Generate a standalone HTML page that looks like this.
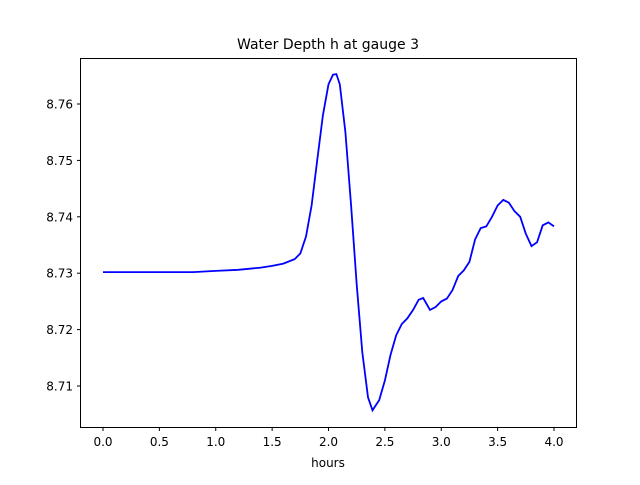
<!DOCTYPE html>
<html><head><meta charset="utf-8"><style>
body{margin:0;background:#fff;}
svg text{font-family:"DejaVu Sans","Liberation Sans",sans-serif;fill:#000;}
</style></head><body>
<svg id="chart" width="640" height="480" xmlns="http://www.w3.org/2000/svg">
<rect width="640" height="480" fill="#fff"/>
<text x="328" y="49" font-size="14" text-anchor="middle">Water Depth h at gauge 3</text>
<text x="328" y="467" font-size="12" text-anchor="middle">hours</text>
<g id="xt"></g>
<g id="yt"></g>
<polyline id="line" fill="none" stroke="#0000ff" stroke-width="1.8"/>
<rect x="80.5" y="58.5" width="496" height="369" fill="none" stroke="#000" stroke-width="1"/>
</svg>
<script>
const hours=[0,0.5,0.8,1.0,1.2,1.4,1.5,1.6,1.7,1.75,1.8,1.85,1.9,1.95,2.0,2.04,2.07,2.1,2.15,2.2,2.25,2.3,2.35,2.39,2.45,2.5,2.55,2.6,2.65,2.7,2.75,2.8,2.84,2.9,2.95,3.0,3.05,3.1,3.15,3.2,3.25,3.3,3.35,3.4,3.45,3.5,3.55,3.6,3.65,3.7,3.75,3.8,3.85,3.9,3.95,4.0];
const depth=[8.7302,8.7302,8.7302,8.7304,8.7306,8.7310,8.7313,8.7317,8.7325,8.7335,8.7365,8.742,8.750,8.758,8.7635,8.7652,8.7653,8.7635,8.755,8.742,8.728,8.716,8.708,8.7057,8.7075,8.711,8.7155,8.719,8.721,8.722,8.7235,8.7253,8.7256,8.7235,8.724,8.725,8.7255,8.727,8.7295,8.7305,8.732,8.736,8.738,8.7383,8.740,8.742,8.743,8.7425,8.741,8.740,8.737,8.7348,8.7355,8.7385,8.739,8.7383];
const xTicks=[0,0.5,1.0,1.5,2.0,2.5,3.0,3.5,4.0];
const yTicks=[8.71,8.72,8.73,8.74,8.75,8.76];
const X=v=>103+v*112.75;
const Y=v=>104+(8.76-v)*5640;
const NS="http://www.w3.org/2000/svg";
document.getElementById('line').setAttribute('points',hours.map((h,i)=>X(h).toFixed(1)+','+Y(depth[i]).toFixed(1)).join(' '));
const xt=document.getElementById('xt');
xTicks.forEach(t=>{
 const l=document.createElementNS(NS,'line');
 
 
 l.setAttribute('x1',X(t));l.setAttribute('x2',X(t));l.setAttribute('y1',427.5);l.setAttribute('y2',431);l.setAttribute('stroke','#000');
 xt.appendChild(l);
 const s=document.createElementNS(NS,'text');
 
 
 s.setAttribute('x',X(t));s.setAttribute('y',446);s.setAttribute('font-size','12');s.setAttribute('text-anchor','middle');
 s.textContent=t.toFixed(1);xt.appendChild(s);
});
const yt=document.getElementById('yt');
yTicks.forEach(t=>{
 const l=document.createElementNS(NS,'line');
 
 
 l.setAttribute('x1',77);l.setAttribute('x2',80.5);l.setAttribute('y1',Y(t));l.setAttribute('y2',Y(t));l.setAttribute('stroke','#000');
 yt.appendChild(l);
 const s=document.createElementNS(NS,'text');
 
 
 s.setAttribute('x',73);s.setAttribute('y',Y(t)+4.5);s.setAttribute('font-size','12');s.setAttribute('text-anchor','end');
 s.textContent=t.toFixed(2);yt.appendChild(s);
});
</script>
</body></html>
